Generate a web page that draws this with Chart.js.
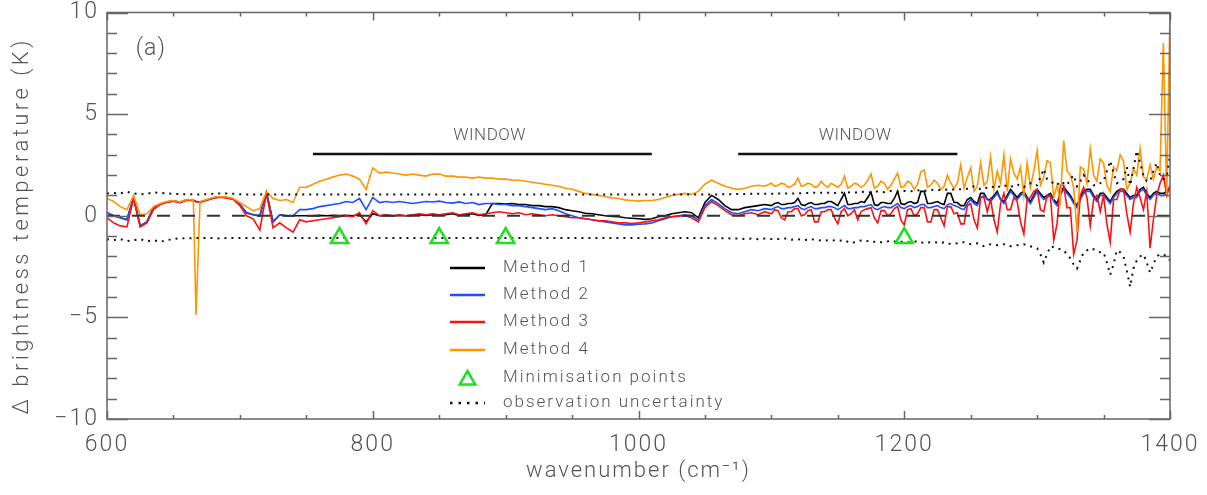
<!DOCTYPE html>
<html>
<head>
<meta charset="utf-8">
<script src="https://cdn.jsdelivr.net/npm/chart.js@4"></script>
<style>
  body { margin: 0; background: #fff; }
  canvas { display: block; }
</style>
</head>
<body>
<canvas id="graphCanvas" width="1207" height="495"></canvas>
<script>
// wavenumber grid (cm-1), finer where the curves get noisy
var wn = [
  600, 605, 610, 615, 620, 625, 630, 635, 640, 645,
  650, 655, 660, 665, 667, 670, 675, 680, 685, 690, 695,
  700, 705, 710, 715, 720, 725, 730, 735, 740, 745,
  750, 755, 760, 765, 770, 775, 780, 785, 790, 795,
  800, 805, 810, 815, 820, 825, 830, 835, 840, 845,
  850, 855, 860, 865, 870, 875, 880, 885, 890, 895,
  900, 905, 910, 915, 920, 925, 930, 935, 940, 945,
  950, 955, 960, 965, 970, 975, 980, 985, 990, 995,
  1000, 1005, 1010, 1015, 1020, 1025, 1030, 1035, 1040, 1045,
  1050, 1055, 1060, 1065, 1070, 1075, 1080, 1085, 1090, 1095,
  1100, 1102.5, 1105, 1107.5, 1110, 1112.5, 1115, 1117.5, 1120, 1122.5,
  1125, 1127.5, 1130, 1132.5, 1135, 1137.5, 1140, 1142.5, 1145, 1147.5,
  1150, 1152.5, 1155, 1157.5, 1160, 1162.5, 1165, 1167.5, 1170, 1172.5,
  1175, 1177.5, 1180, 1182.5, 1185, 1187.5, 1190, 1192.5, 1195, 1197.5,
  1200, 1202.5, 1205, 1207.5, 1210, 1212.5, 1215, 1217.5, 1220, 1222.5,
  1225, 1227.5, 1230, 1232.5, 1235, 1237.5, 1240, 1242.5, 1245, 1247.5,
  1250, 1252.5, 1255, 1257.5, 1260, 1262.5, 1265, 1267.5, 1270, 1272.5,
  1275, 1277.5, 1280, 1282.5, 1285, 1287.5, 1290, 1292.5, 1295, 1297.5,
  1300, 1302.5, 1305, 1307.5, 1310, 1312.5, 1315, 1317.5, 1320, 1322.5,
  1325, 1327.5, 1330, 1332.5, 1335, 1337.5, 1340, 1342.5, 1345, 1347.5,
  1350, 1352.5, 1355, 1357.5, 1360, 1362.5, 1365, 1367.5, 1370, 1372.5,
  1375, 1377.5, 1380, 1382.5, 1385, 1387.5, 1390, 1392.5, 1395, 1397.5,
  1400
];

// Method 1 (black)
var method1 = [
  0.15, 0.0, -0.1, -0.2, 0.9, -0.5, -0.3, 0.4, 0.58, 0.68,
  0.73, 0.66, 0.78, 0.76, 0.7, 0.68, 0.78, 0.88, 0.93, 0.9, 0.83,
  0.55, 0.15, 0.05, 0.0, 1.15, -0.3, 0.05, 0.0, 0.0, 0.0,
  0.0, 0.0, 0.02, 0.0, 0.02, 0.0, 0.02, 0.0, 0.05, -0.3,
  0.1, 0.0, 0.02, 0.0, 0.02, 0.0, 0.02, 0.05, 0.02, 0.05,
  0.02, 0.05, 0.1, 0.02, 0.05, 0.1, 0.02, 0.05, 0.6, 0.6,
  0.58, 0.6, 0.55, 0.55, 0.5, 0.5, 0.45, 0.45, 0.4, 0.3,
  0.25, 0.2, 0.12, 0.1, 0.05, 0.0, -0.03, -0.05, -0.1, -0.12,
  -0.15, -0.18, -0.15, -0.05, 0.0, 0.1, 0.15, 0.2, 0.15, -0.1,
  0.65, 1.0, 0.8, 0.5, 0.3, 0.3, 0.4, 0.45, 0.5, 0.55,
  0.5, 0.6, 0.65, 0.55, 0.55, 0.6, 0.6, 0.65, 0.85, 0.55,
  0.5, 0.6, 0.65, 0.55, 0.55, 0.6, 0.6, 0.7, 0.7, 0.6,
  0.5, 0.8, 1.1, 0.55, 0.55, 0.6, 0.6, 0.7, 0.65, 0.9,
  1.15, 0.55, 0.5, 0.65, 0.65, 0.6, 0.6, 0.85, 1.2, 0.6,
  0.55, 0.65, 0.7, 0.6, 0.65, 1.2, 1.2, 0.6, 0.6, 0.65,
  0.7, 0.6, 0.55, 1.1, 1.1, 0.65, 0.65, 0.5, 0.5, 0.8,
  0.9, 0.7, 0.6, 1.1, 1.1, 0.8, 0.8, 1.0, 1.2, 0.8,
  0.7, 1.0, 1.3, 1.1, 0.9, 1.1, 1.2, 0.9, 0.7, 1.0,
  1.3, 1.1, 0.9, 1.0, 1.1, 0.8, 0.6, 1.1, 1.4, 1.2,
  1.0, 0.7, 0.5, 0.9, 1.2, 1.3, 1.3, 1.0, 0.8, 1.1,
  1.1, 0.9, 0.7, 1.0, 1.2, 1.3, 1.3, 1.1, 0.9, 1.0,
  1.0, 1.3, 1.4, 1.1, 0.9, 1.1, 1.2, 1.1, 1.1, 1.2,
  1.4
];

// Method 2 (blue)
var method2 = [
  0.15, 0.0, -0.1, -0.2, 0.9, -0.5, -0.3, 0.4, 0.58, 0.68,
  0.73, 0.66, 0.78, 0.76, 0.7, 0.68, 0.78, 0.88, 0.93, 0.9, 0.83,
  0.55, 0.15, 0.05, 0.0, 1.15, -0.3, 0.05, 0.0, 0.0, 0.3,
  0.3, 0.35, 0.45, 0.5, 0.55, 0.6, 0.7, 0.65, 0.85, 0.3,
  0.9, 0.65, 0.7, 0.65, 0.7, 0.65, 0.6, 0.65, 0.7, 0.68,
  0.72, 0.65, 0.62, 0.68, 0.6, 0.65, 0.55, 0.6, 0.6, 0.55,
  0.55, 0.5, 0.5, 0.45, 0.4, 0.35, 0.3, 0.35, 0.25, 0.1,
  0.0, -0.1, -0.15, -0.2, -0.25, -0.3, -0.35, -0.4, -0.45, -0.45,
  -0.42, -0.4, -0.35, -0.25, -0.15, -0.05, 0.0, 0.05, 0.0, -0.2,
  0.5, 0.8, 0.6, 0.35, 0.15, 0.1, 0.2, 0.3, 0.25, 0.35,
  0.3, 0.4, 0.45, 0.35, 0.35, 0.4, 0.4, 0.45, 0.5, 0.35,
  0.3, 0.4, 0.45, 0.35, 0.35, 0.4, 0.4, 0.45, 0.45, 0.4,
  0.3, 0.4, 0.5, 0.35, 0.35, 0.4, 0.4, 0.45, 0.45, 0.5,
  0.55, 0.35, 0.3, 0.4, 0.45, 0.4, 0.4, 0.5, 0.6, 0.4,
  0.35, 0.45, 0.5, 0.4, 0.45, 0.55, 0.55, 0.4, 0.4, 0.45,
  0.5, 0.4, 0.35, 0.55, 0.6, 0.5, 0.45, 0.35, 0.3, 0.6,
  0.8, 0.6, 0.5, 0.9, 1.0, 0.8, 0.7, 0.9, 1.1, 0.8,
  0.6, 0.9, 1.2, 1.0, 0.8, 1.0, 1.1, 0.8, 0.6, 0.9,
  1.2, 1.0, 0.8, 0.9, 1.0, 0.7, 0.5, 1.0, 1.3, 1.1,
  0.9, 0.6, 0.4, 0.8, 1.1, 1.2, 1.2, 0.9, 0.7, 1.0,
  1.0, 0.8, 0.6, 0.9, 1.1, 1.2, 1.2, 1.0, 0.8, 0.9,
  0.9, 1.2, 1.3, 1.0, 0.8, 1.0, 1.1, 1.0, 1.0, 1.1,
  1.3
];

// Method 3 (red)
var method3 = [
  -0.1, -0.35, -0.5, -0.55, 0.85, -0.55, -0.35, 0.3, 0.55, 0.66,
  0.71, 0.64, 0.76, 0.74, 0.7, 0.66, 0.76, 0.86, 0.91, 0.88, 0.8,
  0.5, 0.0, -0.15, -0.7, 1.1, -0.6, -0.35, -0.6, -0.8, -0.2,
  -0.3, -0.25, -0.2, -0.15, -0.1, -0.05, 0.0, -0.05, 0.15, -0.4,
  0.25, 0.0, 0.05, 0.0, 0.05, 0.0, 0.05, 0.1, 0.05, 0.1,
  0.05, 0.1, 0.15, 0.05, 0.1, 0.15, 0.05, 0.1, 0.15, 0.2,
  0.15, 0.1, 0.15, 0.05, 0.1, 0.05, 0.0, 0.05, 0.0, -0.05,
  -0.1, -0.1, -0.15, -0.2, -0.25, -0.25, -0.3, -0.35, -0.35, -0.38,
  -0.35, -0.3, -0.25, -0.2, -0.1, -0.05, -0.02, 0.0, -0.1, -0.3,
  0.4, 0.7, 0.5, 0.25, 0.05, 0.0, 0.1, 0.15, 0.05, 0.2,
  0.1, 0.3, 0.25, -0.1, -0.2, 0.2, 0.2, 0.35, 0.35, 0.0,
  0.05, 0.25, 0.3, -0.3, -0.3, 0.2, 0.2, 0.3, 0.3, -0.1,
  -0.4, 0.2, 0.35, 0.0, 0.1, 0.3, -0.2, 0.2, 0.3, 0.35,
  0.4, -0.1, -0.35, 0.25, 0.25, 0.0, 0.1, 0.35, 0.45, -0.2,
  -0.45, 0.3, 0.35, 0.0, 0.1, 0.4, 0.4, -0.3, -0.3, 0.3,
  0.3, -0.1, -0.5, 0.45, 0.45, 0.1, 0.15, -0.4, -0.4, 0.5,
  0.6, -0.2, -0.6, 0.9, 0.9, 0.2, 0.8, -0.2, -0.8, 0.6,
  1.1, 0.3, 0.3, 0.9, 0.7, -0.3, -0.9, 0.8, 0.9, 1.2,
  1.3, 0.3, 0.2, 1.0, 1.0, -1.2, -0.4, 1.5, 1.5, 0.4,
  0.4, -1.9, -1.2, 1.0, 1.4, 0.9, -0.5, 0.8, 1.0, 0.2,
  1.0, -0.4, -1.3, 0.8, 0.8, 1.3, 1.3, 0.1, -0.8, 0.6,
  1.4, 0.9, 0.3, 1.2, -1.6, -0.2, 1.0, 1.6, 2.0, 1.0,
  1.5
];

// Method 4 (orange)
var method4 = [
  0.85, 0.7, 0.45, 0.3, 1.0, 0.05, 0.1, 0.45, 0.6, 0.7,
  0.75, 0.68, 0.8, 0.78, -4.9, 0.7, 0.8, 0.9, 0.95, 0.92, 0.85,
  0.65, 0.45, 0.25, 0.35, 1.2, 0.85, 0.75, 0.8, 0.65, 1.4,
  1.4, 1.55, 1.7, 1.8, 1.9, 2.0, 2.05, 1.95, 1.8, 1.3,
  2.35, 2.1, 2.15, 2.1, 2.05, 2.0, 2.05, 2.0, 1.95, 2.05,
  2.05, 1.95, 1.95, 1.9, 1.9, 1.85, 1.9, 1.85, 1.85, 1.8,
  1.8, 1.75, 1.75, 1.7, 1.65, 1.6, 1.55, 1.5, 1.45, 1.35,
  1.3, 1.2, 1.1, 1.05, 1.0, 0.95, 0.88, 0.85, 0.78, 0.75,
  0.72, 0.75, 0.75, 0.8, 0.9, 1.0, 1.05, 1.1, 1.05, 1.2,
  1.55, 1.75, 1.6, 1.45, 1.35, 1.3, 1.35, 1.45, 1.5, 1.45,
  1.6, 1.45, 1.5, 1.6, 1.55, 1.4, 1.45, 1.55, 1.85, 1.45,
  1.5, 1.6, 1.55, 1.4, 1.45, 1.7, 1.5, 1.4, 1.6, 1.5,
  1.4, 1.55, 1.95, 1.35, 1.45, 1.6, 1.55, 1.4, 1.5, 1.75,
  2.05, 1.35, 1.45, 1.7, 1.6, 1.3, 1.5, 1.8, 2.1, 1.4,
  1.45, 1.7, 1.6, 1.3, 1.55, 2.15, 2.25, 1.4, 1.5, 1.75,
  1.6, 1.3, 1.45, 2.0, 1.6, 1.35, 1.6, 2.5, 1.35, 1.9,
  2.35, 1.2, 1.45, 2.6, 1.5, 1.7, 2.9, 1.3, 2.2, 1.6,
  3.0, 1.2, 2.8, 2.1, 1.8, 2.4, 1.0, 2.6, 1.4, 2.2,
  3.2, 1.5, 1.9, 2.7, 2.6, 0.9, 1.5, 0.7, 3.7, 2.2,
  2.0, 1.4, -0.8, 2.4, 2.3, 1.6, 3.3, 2.0, 1.7, 2.8,
  2.6, 1.5, 1.2, 2.4, 2.2, 3.0, 2.7, 1.3, 1.6, 2.3,
  2.0, 3.3, 1.9, 1.8, 2.5, 1.8, 2.4, 2.2, 8.5, 1.0,
  10
];

// observation uncertainty, upper and lower
var uncHigh = [
  1.1, 1.12, 1.1, 1.18, 1.1, 1.05, 1.08, 1.15, 1.12, 1.1,
  1.08, 1.06, 1.06, 1.05, 1.05, 1.05, 1.06, 1.08, 1.1, 1.1, 1.08,
  1.06, 1.05, 1.05, 1.05, 1.05, 1.05, 1.05, 1.05, 1.05, 1.05,
  1.05, 1.05, 1.05, 1.05, 1.05, 1.05, 1.05, 1.05, 1.05, 1.05,
  1.05, 1.05, 1.05, 1.05, 1.05, 1.05, 1.05, 1.05, 1.05, 1.05,
  1.05, 1.05, 1.05, 1.05, 1.05, 1.05, 1.05, 1.05, 1.05, 1.05,
  1.05, 1.05, 1.05, 1.05, 1.05, 1.05, 1.05, 1.05, 1.05, 1.05,
  1.05, 1.05, 1.05, 1.05, 1.05, 1.05, 1.05, 1.05, 1.05, 1.05,
  1.05, 1.05, 1.05, 1.05, 1.05, 1.05, 1.05, 1.05, 1.05, 1.05,
  1.05, 1.05, 1.05, 1.06, 1.06, 1.07, 1.07, 1.08, 1.08, 1.08,
  1.08, 1.08, 1.09, 1.1, 1.1, 1.1, 1.1, 1.1, 1.1, 1.11,
  1.12, 1.12, 1.12, 1.13, 1.12, 1.13, 1.14, 1.13, 1.12, 1.12,
  1.15, 1.14, 1.12, 1.14, 1.16, 1.15, 1.14, 1.16, 1.18, 1.17,
  1.15, 1.17, 1.2, 1.18, 1.16, 1.2, 1.22, 1.2, 1.18, 1.2,
  1.22, 1.21, 1.2, 1.23, 1.25, 1.24, 1.22, 1.25, 1.28, 1.26,
  1.25, 1.28, 1.3, 1.28, 1.27, 1.3, 1.32, 1.3, 1.3, 1.33,
  1.35, 1.45, 1.4, 1.3, 1.3, 1.4, 1.45, 1.4, 1.35, 1.5,
  1.5, 1.45, 1.4, 1.5, 1.55, 1.45, 1.4, 1.55, 1.6, 1.5,
  1.5, 1.9, 2.3, 1.8, 1.7, 1.6, 1.5, 1.7, 1.6, 1.5,
  1.8, 2.0, 1.45, 1.7, 2.0, 1.8, 1.6, 1.5, 1.5, 1.6,
  1.7, 2.2, 2.7, 2.1, 1.6, 1.7, 1.8, 2.4, 1.5, 2.3,
  3.2, 2.6, 2.0, 1.7, 1.7, 2.2, 2.6, 2.0, 1.8, 1.9,
  3.0
];
var uncLow = [
  -1.15, -1.2, -1.15, -1.25, -1.2, -1.15, -1.25, -1.2, -1.28, -1.2,
  -1.15, -1.1, -1.12, -1.1, -1.1, -1.1, -1.1, -1.1, -1.12, -1.1, -1.1,
  -1.1, -1.1, -1.1, -1.1, -1.1, -1.1, -1.1, -1.1, -1.1, -1.1,
  -1.1, -1.1, -1.1, -1.1, -1.1, -1.1, -1.1, -1.1, -1.1, -1.1,
  -1.1, -1.1, -1.1, -1.1, -1.1, -1.1, -1.1, -1.1, -1.1, -1.1,
  -1.1, -1.1, -1.1, -1.1, -1.1, -1.1, -1.1, -1.1, -1.1, -1.1,
  -1.1, -1.1, -1.1, -1.1, -1.1, -1.1, -1.1, -1.1, -1.1, -1.1,
  -1.1, -1.1, -1.1, -1.1, -1.1, -1.1, -1.1, -1.1, -1.1, -1.1,
  -1.1, -1.1, -1.1, -1.1, -1.1, -1.1, -1.1, -1.1, -1.1, -1.1,
  -1.1, -1.1, -1.12, -1.1, -1.12, -1.12, -1.14, -1.12, -1.15, -1.12,
  -1.15, -1.15, -1.15, -1.14, -1.12, -1.15, -1.18, -1.16, -1.15, -1.18,
  -1.2, -1.18, -1.15, -1.18, -1.2, -1.22, -1.22, -1.2, -1.2, -1.22,
  -1.25, -1.22, -1.2, -1.28, -1.35, -1.3, -1.25, -1.22, -1.2, -1.25,
  -1.3, -1.28, -1.25, -1.3, -1.3, -1.26, -1.22, -1.26, -1.3, -1.28,
  -1.28, -1.3, -1.3, -1.28, -1.25, -1.3, -1.35, -1.32, -1.3, -1.3,
  -1.32, -1.35, -1.3, -1.35, -1.4, -1.38, -1.35, -1.32, -1.3, -1.35,
  -1.4, -1.38, -1.35, -1.42, -1.5, -1.45, -1.4, -1.42, -1.45, -1.42,
  -1.4, -1.45, -1.5, -1.48, -1.45, -1.42, -1.4, -1.45, -1.5, -1.55,
  -1.6, -1.9, -2.3, -1.9, -1.5, -1.55, -1.6, -1.65, -1.7, -1.9,
  -2.1, -2.4, -2.6, -2.2, -1.8, -1.7, -1.6, -1.65, -1.7, -1.8,
  -1.8, -2.3, -2.9, -2.4, -1.7, -1.8, -2.0, -2.7, -3.5, -2.6,
  -2.2, -2.0, -1.9, -2.3, -2.8, -2.4, -2.0, -1.9, -1.9, -2.0,
  -2.2
];

// minimisation points
var minWn = [775, 850, 900, 1200];
var minVal = [-1.1, -1.1, -1.1, -1.1];

// WINDOW bars
var windowStart = [755, 1075];
var windowEnd = [1010, 1240];
var windowLevel = 3.04;
var windowLabelWn = [888, 1163];
var windowLabelY = 3.95;

var seriesNames = ['Method 1', 'Method 2', 'Method 3', 'Method 4'];
var seriesColors = ['#000000', '#1f4fff', '#ff1010', '#ff9500'];
var greenColor = '#1ee01e';
var textColor = '#555555';
var fontFamily = "Roboto, 'DejaVu Sans', sans-serif";

function pairs(xs, ys) {
    return xs.map(function (x, i) { return { x: x, y: ys[i] }; });
}

var allMethods = [method1, method2, method3, method4];
var datasets = [];
for (var i = 0; i < allMethods.length; i++) {
    datasets.push({
        label: seriesNames[i],
        data: pairs(wn, allMethods[i]),
        borderColor: seriesColors[i],
        borderWidth: 1.6,
        pointRadius: 0,
        order: 10 - i
    });
}
datasets.push({
    label: 'obs high', data: pairs(wn, uncHigh), borderColor: '#111',
    borderWidth: 2, borderDash: [2, 5], pointRadius: 0, order: 5
});
datasets.push({
    label: 'obs low', data: pairs(wn, uncLow), borderColor: '#111',
    borderWidth: 2, borderDash: [2, 5], pointRadius: 0, order: 5
});
datasets.push({
    label: 'zero', data: [{ x: 600, y: 0 }, { x: 1400, y: 0 }], borderColor: '#333',
    borderWidth: 2, borderDash: [13, 12], pointRadius: 0, order: 4
});
for (var w = 0; w < windowStart.length; w++) {
    datasets.push({
        label: 'window' + w,
        data: [{ x: windowStart[w], y: windowLevel }, { x: windowEnd[w], y: windowLevel }],
        borderColor: '#111', borderWidth: 2.5, pointRadius: 0, order: 3
    });
}
datasets.push({
    label: 'Minimisation points',
    data: pairs(minWn, minVal),
    showLine: false,
    pointStyle: 'triangle',
    pointRadius: 10,
    pointBorderWidth: 2.5,
    pointBorderColor: greenColor,
    pointBackgroundColor: 'rgba(0,0,0,0)',
    order: 1
});

// wider letter spacing for the axis texts, like the original plot
var spacing = {
    id: 'spacing',
    beforeDraw: function (chart) { chart.ctx.letterSpacing = '2px'; },
    afterDraw: function (chart) { chart.ctx.letterSpacing = '0px'; }
};

// frame, inward ticks, labels and legend
var decorations = {
    id: 'decorations',
    afterDatasetsDraw: function (chart) {
        var ctx = chart.ctx, a = chart.chartArea;
        var x = chart.scales.x, y = chart.scales.y;
        ctx.save();
        ctx.strokeStyle = '#666';
        ctx.lineWidth = 1.5;
        ctx.strokeRect(a.left, a.top, a.right - a.left, a.bottom - a.top);
        ctx.beginPath();
        for (var v = 600; v <= 1400; v += 50) {
            var px = Math.round(x.getPixelForValue(v)) + 0.5;
            var len = v % 200 === 0 ? 8 : 4;
            ctx.moveTo(px, a.bottom); ctx.lineTo(px, a.bottom - len);
            ctx.moveTo(px, a.top); ctx.lineTo(px, a.top + len);
        }
        for (var t = -10; t <= 10; t += 1) {
            var py = Math.round(y.getPixelForValue(t)) + 0.5;
            var l2 = t % 5 === 0 ? 21 : 10;
            ctx.moveTo(a.left, py); ctx.lineTo(a.left + l2, py);
            ctx.moveTo(a.right, py); ctx.lineTo(a.right - l2, py);
        }
        ctx.stroke();

        // y axis title, drawn here to get the wide spacing of the original
        ctx.fillStyle = textColor;
        ctx.textAlign = 'center';
        ctx.textBaseline = 'middle';
        ctx.save();
        ctx.translate(22, (a.top + a.bottom) / 2 + 10);
        ctx.rotate(-Math.PI / 2);
        ctx.letterSpacing = '3.5px';
        ctx.font = '300 22px ' + fontFamily;
        ctx.fillText('\u0394 brightness temperature (K)', 0, 0);
        ctx.restore();

        // texts inside the plot
        ctx.letterSpacing = '0.5px';
        ctx.font = '300 17px ' + fontFamily;
        for (var k = 0; k < windowLabelWn.length; k++) {
            ctx.fillText('WINDOW', x.getPixelForValue(windowLabelWn[k]), y.getPixelForValue(windowLabelY));
        }
        ctx.letterSpacing = '1px';
        ctx.font = '300 23px ' + fontFamily;
        ctx.fillText('(a)', x.getPixelForValue(633), y.getPixelForValue(8.2));

        // legend
        var lx0 = 450, lx1 = 485, tx = 503;
        var rows = [268, 295, 322, 350, 378, 403];
        ctx.textAlign = 'left';
        ctx.letterSpacing = '2px';
        ctx.font = '300 17px ' + fontFamily;
        for (var r = 0; r < 4; r++) {
            ctx.strokeStyle = seriesColors[r];
            ctx.lineWidth = 2.5;
            ctx.beginPath();
            ctx.moveTo(lx0, rows[r]); ctx.lineTo(lx1, rows[r]);
            ctx.stroke();
            ctx.fillText(seriesNames[r], tx, rows[r]);
        }
        // triangle symbol
        var cx = (lx0 + lx1) / 2, cy = rows[4] + 2, rad = 9;
        ctx.strokeStyle = greenColor;
        ctx.lineWidth = 2.5;
        ctx.beginPath();
        ctx.moveTo(cx, cy - rad);
        ctx.lineTo(cx + rad * 0.866, cy + rad * 0.5);
        ctx.lineTo(cx - rad * 0.866, cy + rad * 0.5);
        ctx.closePath();
        ctx.stroke();
        ctx.fillText('Minimisation points', tx, rows[4]);
        // dotted symbol
        ctx.strokeStyle = '#111';
        ctx.lineWidth = 2.5;
        ctx.setLineDash([2.5, 6]);
        ctx.beginPath();
        ctx.moveTo(lx0, rows[5]); ctx.lineTo(lx1, rows[5]);
        ctx.stroke();
        ctx.setLineDash([]);
        ctx.fillText('observation uncertainty', tx, rows[5]);
        ctx.restore();
    }
};

var tickFont = { family: fontFamily, size: 23, weight: 300 };
var titleFont = { family: fontFamily, size: 22, weight: 300 };

var graphTarget = document.getElementById('graphCanvas');
var chart = new Chart(graphTarget, {
    type: 'line',
    data: { datasets: datasets },
    options: {
        responsive: false,
        animation: false,
        devicePixelRatio: 1,
        layout: { padding: { top: 10, right: 37, left: 0, bottom: 0 } },
        plugins: { legend: { display: false }, tooltip: { enabled: false } },
        elements: { line: { tension: 0 } },
        scales: {
            x: {
                type: 'linear', min: 600, max: 1400,
                grid: { display: false, drawTicks: false },
                border: { display: false },
                ticks: {
                    stepSize: 200, color: textColor, font: tickFont, padding: 12, maxRotation: 0,
                    callback: function (v) { return String(v); }
                },
                title: {
                    display: true, text: 'wavenumber (cm\u207B\u00B9)', color: textColor,
                    font: titleFont, padding: { top: 0, bottom: 10 }
                },
                afterFit: function (s) {
                    s.height = 76;
                    s.paddingLeft = 0; s.paddingRight = 0;
                }
            },
            y: {
                type: 'linear', min: -10, max: 10,
                grid: { display: false, drawTicks: false },
                border: { display: false },
                ticks: {
                    stepSize: 5, color: textColor, font: tickFont, padding: 8,
                    callback: function (v) { return String(v).replace('-', '\u2212'); }
                },
                title: { display: false },
                afterFit: function (s) {
                    s.width = 107;
                    s.paddingTop = 0; s.paddingBottom = 0;
                }
            }
        }
    },
    plugins: [spacing, decorations]
});
</script>
</body>
</html>
